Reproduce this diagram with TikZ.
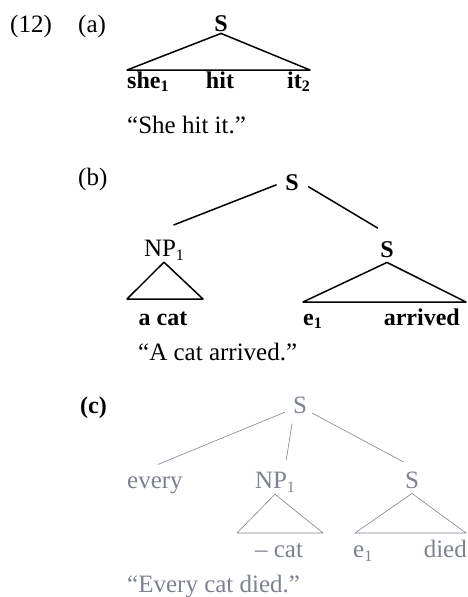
\documentclass[tikz,border=0pt]{standalone}
\usepackage{fontspec}
\setmainfont{Liberation Serif}
\definecolor{faded}{HTML}{7D828F}
\newcommand{\subidx}[1]{\raisebox{-.35ex}{\fontsize{16}{16}\selectfont #1}}

\begin{document}
\begin{tikzpicture}[x=1pt,y=-1pt,font=\fontsize{25}{29}\selectfont,
  lab/.style={inner sep=2pt},
  boldlab/.style={inner sep=2pt,font=\fontsize{24}{28}\selectfont\bfseries},
  ghost/.style={inner sep=2pt,text=faded},
  thickline/.style={line width=1.5pt,line join=round},
  thinline/.style={line width=0.6pt,draw=faded,line join=round}]
  \useasboundingbox (0,0) rectangle (468,597);

    %example labels
    \node (ex) at (10,32)[anchor=base west,inner sep=0]{(12)};
    \node (la) at (78,32)[anchor=base west,inner sep=0]{(a)};
    \node (lb) at (78,185)[anchor=base west,inner sep=0]{(b)};
    \node (lc) at (80,413)[boldlab,anchor=base west,inner sep=0]{(c)};

    %tree a
    \node (Sa) at (221,31)[boldlab,anchor=base]{S};
    \coordinate (aL) at (127,70);
    \coordinate (aR) at (310,70);
    \draw [thickline] (Sa.south) -- (aL) -- (aR) -- cycle;
    \node (she) at (127,88)[boldlab,anchor=base west,inner sep=0]{she\subidx{1}};
    \node (hit) at (220,88)[boldlab,anchor=base]{hit};
    \node (it) at (310,88)[boldlab,anchor=base east,inner sep=0]{it\subidx{2}};
    \node (qa) at (127,133)[anchor=base west,inner sep=0]{``She hit it.''};

    %tree b
    \node (Sb) at (292,190)[boldlab,anchor=base]{S};
    \node (NPb) at (164,256)[lab,anchor=base]{NP\subidx{1}};
    \node (Sb2) at (387,257)[boldlab,anchor=base]{S};
    \draw [thickline,shorten <=7pt,shorten >=34pt] (Sb.west) -- (NPb.north west);
    \draw [thickline,shorten <=8.5pt,shorten >=21pt] (Sb.east) -- (Sb2.north east);
    \coordinate (bL1) at (127,299);
    \coordinate (bR1) at (203,299);
    \draw [thickline] (NPb.south) -- (bL1) -- (bR1) -- cycle;
    \coordinate (bL2) at (303,302);
    \coordinate (bR2) at (466,302);
    \draw [thickline] ([yshift=-3pt]Sb2.south) -- (bL2) -- (bR2) -- cycle;
    \node (acat) at (163,325)[boldlab,anchor=base]{a cat};
    \node (eb) at (303,325)[boldlab,anchor=base west,inner sep=0]{e\subidx{1}};
    \node (arr) at (460,325)[boldlab,anchor=base east,inner sep=0]{arrived};
    \node (qb) at (138,360)[anchor=base west,inner sep=0]{``A cat arrived.''};

    %tree c
    \node (Sc) at (300,413)[ghost,anchor=base]{S};
    \node (every) at (125,488)[ghost,anchor=base west]{every};
    \node (NPc) at (275,488)[ghost,anchor=base]{NP\subidx{1}};
    \node (Sc2) at (412,488)[ghost,anchor=base]{S};
    \draw [thinline,shorten <=6.5pt,shorten >=25pt] (Sc.208) -- (every.152);
    \draw [thinline,shorten <=8.4pt,shorten >=9.6pt] (Sc.238) -- (NPc.52);
    \draw [thinline,shorten <=3.4pt,shorten >=15.8pt] (Sc.324) -- (Sc2.64);
    \coordinate (cL1) at (237,533);
    \coordinate (cR1) at (323,533);
    \draw [thinline] (NPc.south) -- (cL1) -- (cR1) -- cycle;
    \coordinate (cL2) at (355,533);
    \coordinate (cR2) at (466,533);
    \draw [thinline] ([yshift=-3pt]Sc2.south) -- (cL2) -- (cR2) -- cycle;
    \node (cat) at (279,557)[ghost,anchor=base]{-- cat};
    \node (ec) at (353,557)[ghost,anchor=base west,inner sep=0]{e\subidx{1}};
    \node (died) at (467,557)[ghost,anchor=base east,inner sep=0]{died};
    \node (qc) at (127,592)[ghost,anchor=base west,inner sep=0]{``Every cat died.''};
\end{tikzpicture}
\end{document}
